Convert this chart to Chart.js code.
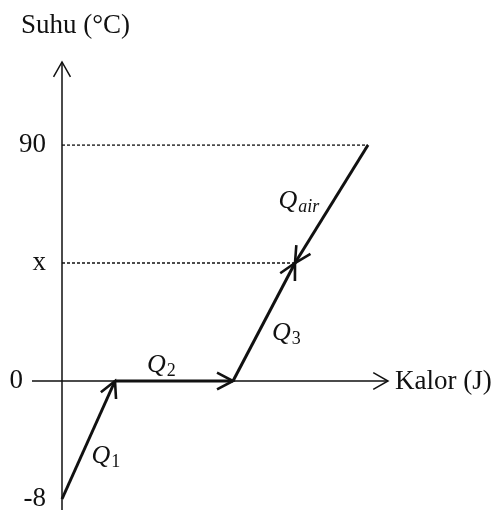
<!DOCTYPE html>
<html>
<head>
<meta charset="utf-8">
<script src="https://cdn.jsdelivr.net/npm/chart.js@4.4.1/dist/chart.umd.min.js"></script>
<style>
  html, body { margin: 0; padding: 0; background: #fff; }
</style>
</head>
<body>
<canvas id="heatChart" width="493" height="510"></canvas>
<script>
// temperature levels on the vertical axis, top to bottom
const levels = ["90", "x", "0", "-8"];

// turning points of the heating curve (heat is schematic, no units on the axis)
const heat = [0, 53, 171, 233, 306];
const temp = ["-8", "0", "0", "x", "90"];

// processes: subscript name, start point, end point (arrow at the end point)
const processNames = ["1", "2", "3", "air"];
const fromPoint = [0, 1, 2, 4];
const toPoint = [1, 2, 3, 3];

// levels that get a dashed guide back to the temperature axis
const guideLevels = ["90", "x"];

const ink = "#111";
const serif = '"Liberation Serif", "Times New Roman", serif';

// where each Q label sits relative to the middle of its segment
const labelShift = [[3, 23], [-27, -9], [8, 18], [-53, 4]];

const datasets = [];
guideLevels.forEach(function (lv) {
    const end = temp.lastIndexOf(lv);
    datasets.push({
        data: [{ x: 0, y: lv }, { x: heat[end], y: lv }],
        borderColor: ink,
        borderWidth: 1.4,
        borderDash: [3, 2],
        pointRadius: 0,
    });
});
processNames.forEach(function (name, i) {
    datasets.push({
        data: [
            { x: heat[fromPoint[i]], y: temp[fromPoint[i]] },
            { x: heat[toPoint[i]], y: temp[toPoint[i]] },
        ],
        borderColor: ink,
        borderWidth: 3,
        pointRadius: 0,
    });
});

function openArrow(ctx, x0, y0, x1, y1, len, spread) {
    const a = Math.atan2(y1 - y0, x1 - x0);
    ctx.beginPath();
    ctx.moveTo(x1 - len * Math.cos(a - spread), y1 - len * Math.sin(a - spread));
    ctx.lineTo(x1, y1);
    ctx.lineTo(x1 - len * Math.cos(a + spread), y1 - len * Math.sin(a + spread));
    ctx.stroke();
}

// axes with arrow tips, tick texts and axis titles
const axesPlugin = {
    id: "sketchAxes",
    beforeDatasetsDraw(chart) {
        const ctx = chart.ctx;
        const xs = chart.scales.x, ys = chart.scales.y;
        const area = chart.chartArea;
        const ox = xs.getPixelForValue(0);
        const oy = ys.getPixelForValue("0");
        const top = ys.getPixelForValue("90") - 83;

        ctx.save();
        ctx.strokeStyle = ink;
        ctx.lineWidth = 1.5;
        ctx.lineJoin = "miter";
        ctx.beginPath();
        ctx.moveTo(ox, chart.height);
        ctx.lineTo(ox, top);
        ctx.moveTo(area.left, oy);
        ctx.lineTo(area.right, oy);
        ctx.stroke();
        openArrow(ctx, ox, chart.height, ox, top, 17, 0.52);
        openArrow(ctx, area.left, oy, area.right, oy, 17, 0.52);

        ctx.fillStyle = ink;
        ctx.font = "27px " + serif;
        ctx.textBaseline = "middle";
        ctx.textAlign = "right";
        levels.forEach(function (lv) {
            const px = lv === "0" ? area.left - 9 : ox - 16;
            ctx.fillText(lv, px, ys.getPixelForValue(lv));
        });
        ctx.textAlign = "left";
        ctx.fillText("Kalor (J)", area.right + 7, oy + 1);
        ctx.textBaseline = "alphabetic";
        ctx.fillText("Suhu (\u00B0C)", 21, 33);
        ctx.restore();
    },
    afterDatasetsDraw(chart) {
        const ctx = chart.ctx;
        const xs = chart.scales.x, ys = chart.scales.y;
        ctx.save();
        ctx.strokeStyle = ink;
        ctx.fillStyle = ink;
        ctx.lineWidth = 2.6;
        ctx.lineJoin = "miter";
        processNames.forEach(function (name, i) {
            const x0 = xs.getPixelForValue(heat[fromPoint[i]]);
            const y0 = ys.getPixelForValue(temp[fromPoint[i]]);
            const x1 = xs.getPixelForValue(heat[toPoint[i]]);
            const y1 = ys.getPixelForValue(temp[toPoint[i]]);
            openArrow(ctx, x0, y0, x1, y1, 18, 0.48);

            const lx = (x0 + x1) / 2 + labelShift[i][0];
            const ly = (y0 + y1) / 2 + labelShift[i][1];
            ctx.font = "italic 26px " + serif;
            ctx.textBaseline = "alphabetic";
            ctx.textAlign = "left";
            ctx.fillText("Q", lx, ly);
            const qw = ctx.measureText("Q").width;
            const digit = /^\d+$/.test(name);
            ctx.font = (digit ? "" : "italic ") + "18px " + serif;
            ctx.fillText(name, lx + qw + 1, ly + 4);
        });
        ctx.restore();
    },
};

new Chart(document.getElementById("heatChart"), {
    type: "line",
    data: { datasets: datasets },
    options: {
        responsive: false,
        animation: false,
        layout: { padding: { left: 32, right: 105, top: 145, bottom: 11 } },
        scales: {
            x: { type: "linear", min: -30, max: 326, display: false },
            y: { type: "category", labels: levels, display: false },
        },
        plugins: {
            legend: { display: false },
            tooltip: { enabled: false },
        },
    },
    plugins: [axesPlugin],
});
</script>
</body>
</html>
